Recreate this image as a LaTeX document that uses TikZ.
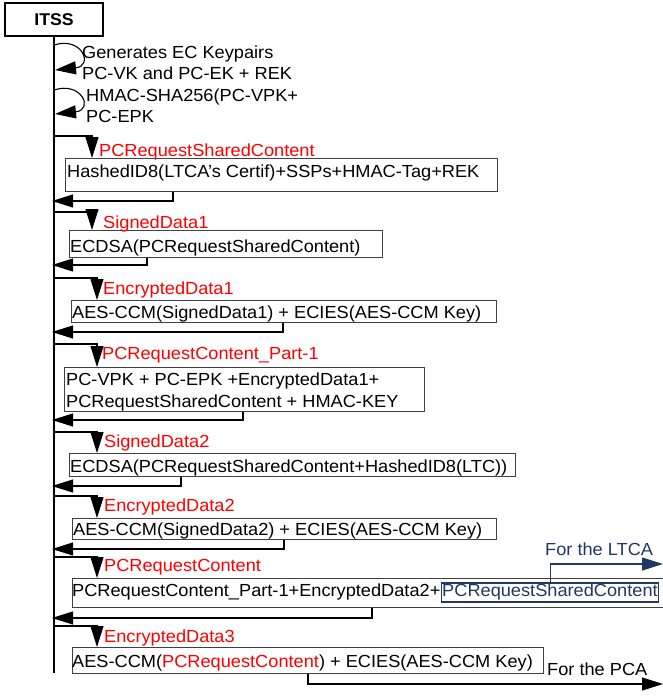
\documentclass[tikz,border=0pt]{standalone}
\usepackage{fontspec}
\setmainfont{Liberation Sans}[FakeStretch=1.04]
\usetikzlibrary{arrows.meta,calc}
\definecolor{navy}{RGB}{32,56,100}
\begin{document}
\begin{tikzpicture}[x=1pt,y=-1pt,
  every node/.style={font=\fontsize{17.5}{22}\selectfont},
  msgbox/.style={draw=black!75, line width=1.1pt, inner sep=0pt, anchor=north west},
  txt/.style={inner sep=0pt, anchor=base west},
  lbl/.style={txt, text=red},
  arr/.style={-{Triangle[length=21pt,width=13pt]}, line width=1.1pt},
  ln/.style={line width=1.1pt}]
\useasboundingbox (0,0) rectangle (663,696);
\clip (0,0) rectangle (663,696);
% ITSS
\node[draw, line width=1.1pt, minimum width=98pt, minimum height=33pt, inner sep=0pt] (itss) at (54,19.5) {};
\node[txt, anchor=base, font=\fontsize{17}{20}\selectfont\bfseries] (itsst) at (54,25) {ITSS};
\coordinate (lend) at (54,673);
\draw[ln] (itss.south) -- (lend);
% self loops
\coordinate (l1s) at (54,45);
\coordinate (l1e) at (55,70);
\draw[arr] (l1s) .. controls (82,36) and (94,66) .. (l1e);
\node[txt] (g1) at (82,58) {Generates EC Keypairs};
\node[txt] (g2) at (82,79) {PC-VK and PC-EK + REK};
\coordinate (l2s) at (54,90);
\coordinate (l2e) at (55,114);
\draw[arr] (l2s) .. controls (82,81) and (94,110) .. (l2e);
\node[txt] (h1) at (86,101) {HMAC-SHA256(PC-VPK+};
\node[txt] (h2) at (86,122.5) {PC-EPK};
% boxes
\node[msgbox, minimum width=432pt, minimum height=33pt] (b1) at (65,158) {};
\node[msgbox, minimum width=313pt, minimum height=27pt] (b2) at (69,230) {};
\node[msgbox, minimum width=425pt, minimum height=22pt] (b3) at (71,300) {};
\node[msgbox, minimum width=360pt, minimum height=44pt] (b4) at (64,367) {};
\node[msgbox, minimum width=446pt, minimum height=23pt] (b5) at (69,453) {};
\node[msgbox, minimum width=424pt, minimum height=21pt] (b6) at (72,518) {};
\node[msgbox, minimum width=600pt, minimum height=29pt] (b7) at (72,578) {};
\node[msgbox, minimum width=471pt, minimum height=26pt] (b8) at (72,647) {};
% texts
\node[txt] (t1) at (67,177.5) {HashedID8(LTCA's Certif)+SSPs+HMAC-Tag+REK};
\node[txt] (t2) at (70,252) {ECDSA(PCRequestSharedContent)};
\node[txt] (t3) at (72,318) {AES-CCM(SignedData1) + ECIES(AES-CCM Key)};
\node[txt] (t4a) at (66,385) {PC-VPK + PC-EPK +EncryptedData1+};
\node[txt] (t4b) at (66,407) {PCRequestSharedContent + HMAC-KEY};
\node[txt] (t5) at (70,472) {ECDSA(PCRequestSharedContent+HashedID8(LTC))};
\node[txt] (t6) at (73,535) {AES-CCM(SignedData2) + ECIES(AES-CCM Key)};
\node[txt] (t7) at (72,596) {PCRequestContent\_Part-1+EncryptedData2+};
\node[draw=navy, line width=1.1pt, text=navy, anchor=base west, inner xsep=1pt, inner ysep=0pt, text height=13pt, text depth=6pt] (lt) at (t7.base east) {PCRequestSharedContent};
\node[txt] (t8) at (72,667) {AES-CCM(\textcolor{red}{PCRequestContent}) + ECIES(AES-CCM Key)};
% labels
\node[lbl] (n1) at (99,156) {PCRequestSharedContent};
\node[lbl] (n2) at (103,228) {SignedData1};
\node[lbl] (n3) at (103,294) {EncryptedData1};
\node[lbl] (n4) at (102,359) {PCRequestContent\_Part-1};
\node[lbl] (n5) at (104,447) {SignedData2};
\node[lbl] (n6) at (104,511) {EncryptedData2};
\node[lbl] (n7) at (104,571) {PCRequestContent};
\node[lbl] (n8) at (104,642) {EncryptedData3};
\node[txt, text=navy] (fl) at (545,555) {For the LTCA};
\node[txt] (fp) at (547,675) {For the PCA};
% lifeline points
\coordinate (s1) at (54,136); \coordinate (r1) at (52,201);
\coordinate (s2) at (54,212); \coordinate (r2) at (52,265);
\coordinate (s3) at (54,278); \coordinate (r3) at (52,332);
\coordinate (s4) at (54,344); \coordinate (r4) at (52,420);
\coordinate (s5) at (54,432); \coordinate (r5) at (52,486);
\coordinate (s6) at (54,496); \coordinate (r6) at (52,549);
\coordinate (s7) at (54,557); \coordinate (r7) at (52,618);
\coordinate (s8) at (54,626);
\coordinate (ltca) at (663,564);
\coordinate (pca) at (663,684);
% requests
\draw[arr] (s1) -| ($(b1.north west)+(27,0)$);
\draw[arr] (s2) -| ($(b2.north west)+(23,0)$);
\draw[arr] (s3) -| ($(b3.north west)+(26,0)$);
\draw[arr] (s4) -| ($(b4.north west)+(33,0)$);
\draw[arr] (s5) -| ($(b5.north west)+(28,0)$);
\draw[arr] (s6) -| ($(b6.north west)+(25,0)$);
\draw[arr] (s7) -| ($(b7.north west)+(25,0)$);
\draw[arr] (s8) -| ($(b8.north west)+(25,0)$);
% returns
\draw[arr] ($(b1.south west)+(108,0)$) |- (r1);
\draw[arr] ($(b2.south west)+(78,0)$) |- (r2);
\draw[arr] ($(b3.south west)+(212,0)$) |- (r3);
\draw[arr] ($(b4.south west)+(179,0)$) |- (r4);
\draw[arr] ($(b5.south west)+(112,0)$) |- (r5);
\draw[arr] ($(b6.south west)+(212,0)$) |- (r6);
\draw[arr] ($(b7.south west)+(300,0)$) |- (r7);
\draw[arr] ($(b8.south west)+(236,0)$) |- (pca);
\draw[arr, draw=navy] ($(lt.north west)+(110,0)$) |- (ltca);
\end{tikzpicture}
\end{document}
